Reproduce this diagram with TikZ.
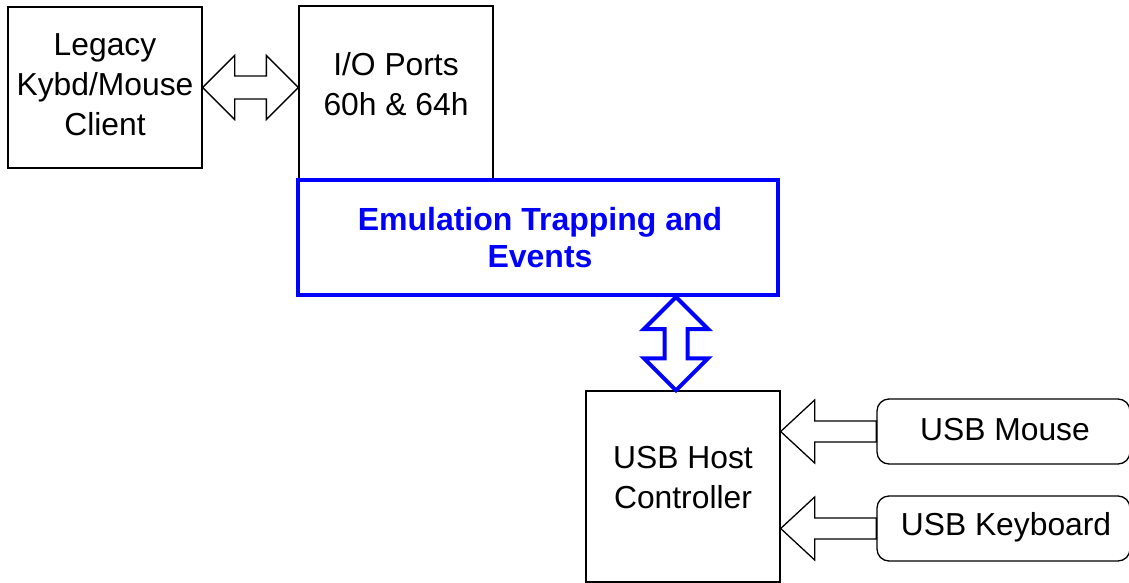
\documentclass[tikz,border=0pt]{standalone}
\usepackage{fontspec}
\setmainfont{Liberation Sans}
\usetikzlibrary{calc}
\definecolor{emublue}{RGB}{0,0,255}
\begin{document}
\begin{tikzpicture}[x=1pt,y=-1pt,
  box/.style={draw=black, line width=1.3pt, rectangle, inner sep=0pt},
  lbl/.style={align=center, font=\fontsize{31.8}{40}\selectfont, inner sep=0pt},
  emubox/.style={draw=emublue, line width=4pt, fill=white, inner sep=0pt},
  emulbl/.style={align=center, text=emublue, font=\fontsize{32}{37}\selectfont\bfseries, inner sep=0pt},
  dev/.style={draw=black, line width=1.3pt, rounded corners=12pt, inner sep=0pt},
  barrow/.style={draw=black, line width=1.3pt, fill=white, line join=miter},
  barrowblue/.style={draw=emublue, line width=4pt, fill=white, line join=miter}
]
\useasboundingbox (0,0) rectangle (1129,583);

% boxes
\node[box, minimum width=194pt, minimum height=161pt] (legacy) at (105,87.5) {};
\node[lbl] (legacytxt) at (105,85) {Legacy\\Kybd/Mouse\\Client};

\node[box, minimum width=194pt, minimum height=180pt] (io) at (396,96) {};
\node[lbl] (iotxt) at (396,84) {I/O Ports\\60h \& 64h};

\node[emubox, minimum width=480pt, minimum height=115pt] (emu) at (538,237.5) {};
\node[emulbl] (emutxt) at (540,238) {Emulation Trapping and\\Events};

\node[box, minimum width=194pt, minimum height=191pt] (host) at (683,486.5) {};
\node[lbl] (hosttxt) at (683,478) {USB Host\\Controller};

\node[dev, minimum width=253pt, minimum height=65pt] (mouse) at (1003.5,431.5) {};
\node[lbl] (mousetxt) at (1005,430) {USB Mouse};

\node[dev, minimum width=253pt, minimum height=65pt] (kbd) at (1003.5,528.5) {};
\node[lbl] (kbdtxt) at (1006,527) {USB Keyboard};

% horizontal double block arrow
\coordinate (hA) at (legacy.east);
\coordinate (hB) at (io.west |- legacy.east);
\draw[barrow] (hA) -- ++(32,-32) -- ++(0,20.5) -- ($(hB)+(-32,-11.5)$) -- ++(0,-20.5)
  -- (hB) -- ++(-32,32) -- ++(0,-20.5) -- ($(hA)+(32,11.5)$) -- ++(0,20.5) -- cycle;

% vertical blue double block arrow
\coordinate (vx) at (676,0);
\coordinate (vA) at (vx |- emu.south);
\coordinate (vB) at (vx |- host.north);
\draw[barrowblue] (vA) -- ++(-32,32) -- ++(20.5,0) -- ($(vB)+(-11.5,-32)$) -- ++(-20.5,0)
  -- (vB) -- ++(32,-32) -- ++(-20.5,0) -- ($(vA)+(11.5,32)$) -- ++(20.5,0) -- cycle;

% mouse -> host
\coordinate (mT) at (host.east |- mouse.west);
\draw[barrow] (mT) -- ++(34,-31.5) -- ++(0,21) -- ($(mouse.west)+(0,-10.5)$)
  -- ($(mouse.west)+(0,10.5)$) -- ($(mT)+(34,10.5)$) -- ++(0,21) -- cycle;

% keyboard -> host
\coordinate (kT) at (host.east |- kbd.west);
\draw[barrow] (kT) -- ++(34,-31.5) -- ++(0,21) -- ($(kbd.west)+(0,-10.5)$)
  -- ($(kbd.west)+(0,10.5)$) -- ($(kT)+(34,10.5)$) -- ++(0,21) -- cycle;
\end{tikzpicture}
\end{document}
